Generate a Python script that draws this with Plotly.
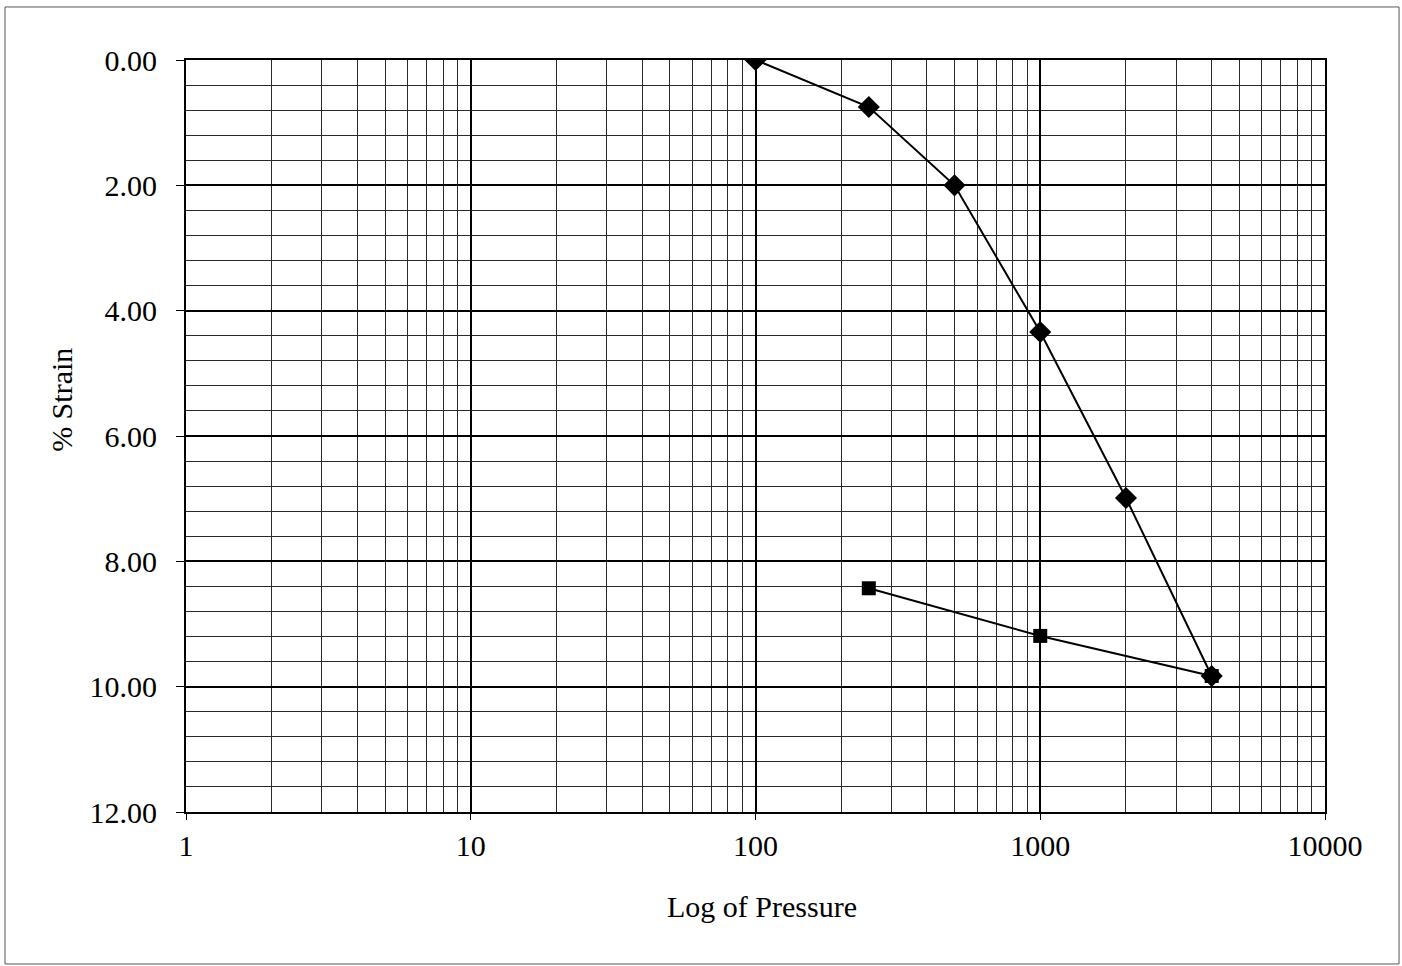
import plotly.graph_objects as go

# Consolidation test: strain against log of pressure
loading_pressure = [100, 250, 500, 1000, 2000, 4000]
loading_strain = [0.00, 0.75, 2.00, 4.34, 6.99, 9.83]

unloading_pressure = [250, 1000, 4000]
unloading_strain = [8.43, 9.19, 9.83]

x_tick_vals = [1, 10, 100, 1000, 10000]
x_tick_text = ["1", "10", "100", "1000", "10000"]

FONT = "Liberation Serif"

fig = go.Figure()

fig.add_trace(go.Scatter(
    x=loading_pressure, y=loading_strain, mode="lines+markers",
    line=dict(color="black", width=2),
    marker=dict(symbol="diamond", size=17, color="black"),
    showlegend=False,
))
fig.add_trace(go.Scatter(
    x=unloading_pressure, y=unloading_strain, mode="lines+markers",
    line=dict(color="black", width=2),
    marker=dict(symbol="square", size=14, color="black"),
    showlegend=False,
))

fig.update_xaxes(
    type="log", range=[0, 4],
    tickvals=x_tick_vals, ticktext=x_tick_text,
    showgrid=True, gridcolor="black", gridwidth=2,
    minor=dict(dtick="D1", showgrid=True, gridcolor="#2a2a2a", gridwidth=1, ticks=""),
    ticks="outside", ticklen=6, tickcolor="black", tickwidth=1,
    showline=True, linecolor="black", linewidth=2, mirror=True,
    tickfont=dict(family=FONT, size=30, color="black"),
    zeroline=False,
)
fig.update_yaxes(
    range=[12, 0], dtick=2, tickformat=".2f",
    showgrid=True, gridcolor="black", gridwidth=2,
    minor=dict(dtick=0.4, showgrid=True, gridcolor="#2a2a2a", gridwidth=1, ticks=""),
    ticks="outside", ticklen=8, tickcolor="black", tickwidth=1,
    ticklabelstandoff=13,
    showline=True, linecolor="black", linewidth=2, mirror=True,
    tickfont=dict(family=FONT, size=30, color="black"),
    zeroline=False,
)

# Axis titles
fig.add_annotation(text="Log of Pressure", xref="paper", yref="paper",
                   x=0.5053, y=-0.1263, showarrow=False,
                   xanchor="center", yanchor="middle",
                   font=dict(family=FONT, size=30, color="black"))
fig.add_annotation(text="% Strain", xref="paper", yref="paper",
                   x=-0.1089, y=0.548, showarrow=False, textangle=-90,
                   xanchor="center", yanchor="middle",
                   font=dict(family=FONT, size=30, color="black"))

# Thin frame around the whole chart
fig.add_shape(type="rect", xref="paper", yref="paper",
              x0=-0.1589, x1=1.0650, y0=-0.2021, y1=1.0705,
              line=dict(color="#555", width=1), layer="below")

fig.update_layout(
    width=1402, height=966,
    margin=dict(l=186, r=77, t=60, b=154),
    paper_bgcolor="white", plot_bgcolor="white",
    font=dict(family=FONT, color="black"),
)

fig.write_html("out.html")
